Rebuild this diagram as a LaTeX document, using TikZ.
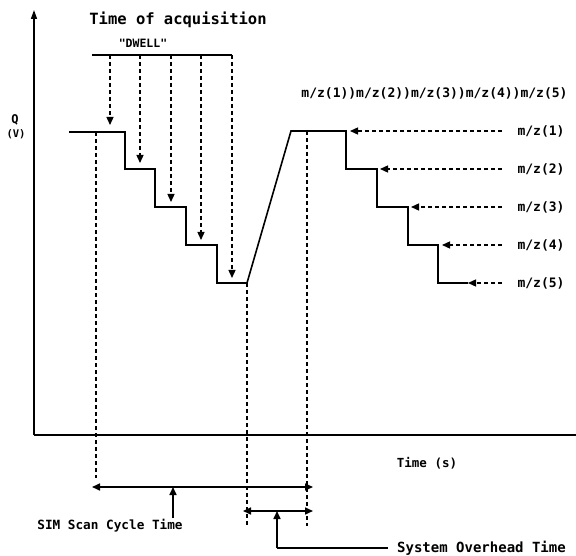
\documentclass[tikz,border=0pt]{standalone}
\usepackage{fontspec}
\newfontfamily\dm{DejaVu Sans Mono}
\usetikzlibrary{arrows.meta}
\begin{document}
\begin{tikzpicture}[x=1pt,y=-1pt,
  ln/.style={line width=1.6pt},
  dsh/.style={line width=1.3pt, dash pattern=on 4pt off 3pt},
  tip/.style={-{Triangle[length=8pt,width=7pt]}},
  both/.style={{Triangle[length=8pt,width=7pt]}-{Triangle[length=8pt,width=7pt]}},
  lbl/.style={inner sep=0pt, font=\dm\bfseries\fontsize{#1}{#1}\selectfont},
  lbl/.default=13
]
\useasboundingbox (0,0) rectangle (576,556);
% axes
\coordinate (O) at (34,435);
\coordinate (Ytop) at (34,10);
\coordinate (Xend) at (576,435);
\draw[ln,-{Triangle[length=9pt,width=6pt]}] (O) -- (Ytop);
\draw[ln] (O) -- (Xend);
% staircase
\draw[ln] (69,132) coordinate (s0) -- (125,132) -- (125,169) -- (155,169) -- (155,207)
  -- (186,207) -- (186,245) -- (217,245) -- (217,283) -- (247,283) coordinate (smin)
  -- (291,131) -- (346,131) -- (346,169) -- (377,169) -- (377,207) -- (408,207)
  -- (408,245) -- (438,245) -- (438,283) -- (468,283) coordinate (send);
% dwell bar and arrows
\coordinate (b0) at (92,55);
\coordinate (b5) at (232,55);
\draw[ln] (b0) -- (b5);
\foreach \x/\y [count=\i] in {110/125,140/163,171/202,201/240,232/278}{
  \coordinate (dt\i) at (\x,55);
  \coordinate (dh\i) at (\x,\y);
  \draw[dsh,tip] (dt\i) -- (dh\i);
}
% right arrows with labels
\foreach \y/\x [count=\i] in {131/350,169/380,207/411,245/442,283/468}{
  \node[lbl] (mz\i) at (541,\y) {m/z(\i)};
  \coordinate (ra\i) at (502,\y);
  \coordinate (rh\i) at (\x,\y);
  \draw[dsh,tip] (ra\i) -- (rh\i);
}
% vertical dashed lines
\coordinate (v1t) at (96,132);  \coordinate (v1b) at (96,478);
\coordinate (v2t) at (247,283); \coordinate (v2b) at (247,526);
\coordinate (v3t) at (307,131); \coordinate (v3b) at (307,526);
\draw[dsh] (v1t) -- (v1b);
\draw[dsh] (v2t) -- (v2b);
\draw[dsh] (v3t) -- (v3b);
% bottom arrows
\coordinate (c1) at (92,487); \coordinate (c2) at (313,487);
\draw[ln,both] (c1) -- (c2);
\coordinate (p1) at (173,518); \coordinate (p1t) at (173,487);
\draw[ln,tip] (p1) -- (p1t);
\coordinate (o1) at (243,511); \coordinate (o2) at (313,511);
\draw[ln,both] (o1) -- (o2);
\coordinate (p2) at (277,548); \coordinate (p2t) at (277,511);
\coordinate (p2e) at (388,548);
\draw[ln,tip] (p2) -- (p2t);
\draw[ln] (p2) -- (p2e);
% texts
\node[lbl=15.5] (toa) at (178,20) {Time of acquisition};
\node[lbl=11.5] (dwell) at (143,43) {"DWELL"};
\node[lbl=13] (hdr) at (434.5,93) {m/z(1))m/z(2))m/z(3))m/z(4))m/z(5)};
\node[lbl=12] (q) at (15,120) {Q};
\node[lbl=10.5] (v) at (16,134) {(V)};
\node[lbl=12.5] (ts) at (427,463) {Time (s)};
\node[lbl=12.7] (sim) at (110,526) {SIM Scan Cycle Time};
\node[lbl=14,anchor=west] (sot) at (397,548) {System Overhead Time};
\end{tikzpicture}
\end{document}
